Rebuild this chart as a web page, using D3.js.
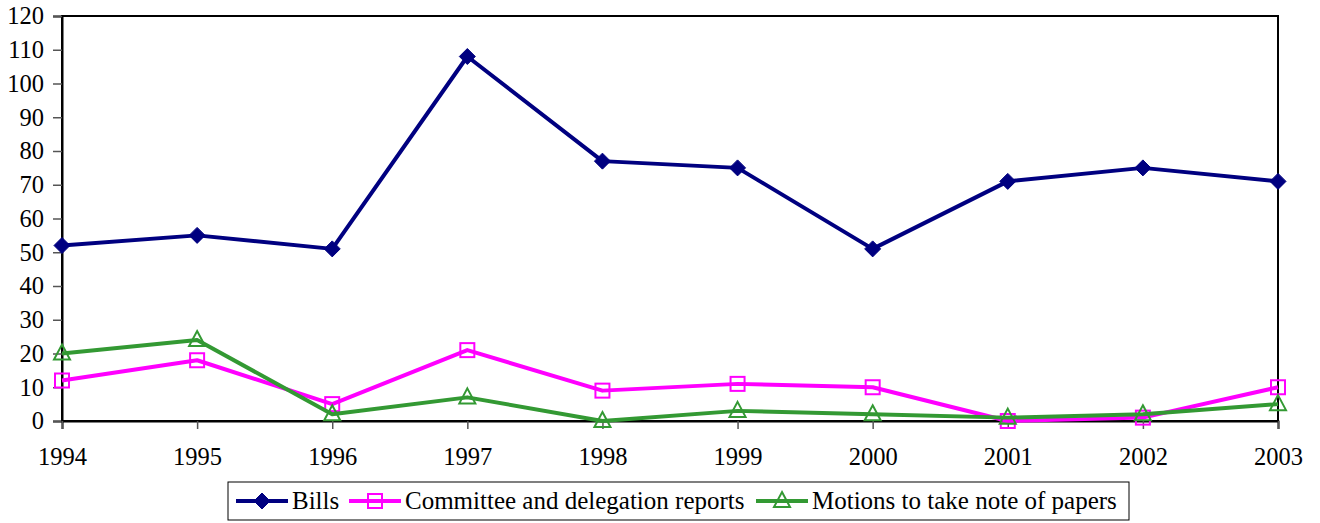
<!DOCTYPE html>
<html>
<head>
<meta charset="utf-8">
<script src="https://cdn.jsdelivr.net/npm/d3@7"></script>
<style>
  body { margin: 0; background: #fff; }
  svg text { font-family: "Liberation Serif", "Times New Roman", serif; fill: #000; }
</style>
</head>
<body>
<svg id="chart" width="1320" height="523"></svg>
<script>
// data
var years = ["1994", "1995", "1996", "1997", "1998", "1999", "2000", "2001", "2002", "2003"];
var bills = [52, 55, 51, 108, 77, 75, 51, 71, 75, 71];
var reports = [12, 18, 5, 21, 9, 11, 10, 0, 1, 10];
var motions = [20, 24, 2, 7, 0, 3, 2, 1, 2, 5];
var yTicks = [0, 10, 20, 30, 40, 50, 60, 70, 80, 90, 100, 110, 120];

var series = [
  { name: "Bills", values: bills, color: "#000080", marker: "diamond" },
  { name: "Committee and delegation reports", values: reports, color: "#FF00FF", marker: "square" },
  { name: "Motions to take note of papers", values: motions, color: "#339933", marker: "triangle" }
];

var plotL = 62, plotR = 1278, plotT = 16, plotB = 421;
var fontSize = "24.5px";
var svg = d3.select("#chart");

var x = d3.scalePoint().domain(years).range([plotL, plotR]);
var y = d3.scaleLinear().domain([0, 120]).range([plotB, plotT]);

// frame
svg.append("rect")
  .attr("x", plotL).attr("y", plotT)
  .attr("width", plotR - plotL).attr("height", plotB - plotT)
  .attr("fill", "none").attr("stroke", "#000").attr("stroke-width", 2);

// y axis
var yAxis = svg.append("g")
  .attr("transform", "translate(" + plotL + ",0)")
  .call(d3.axisLeft(y).tickValues(yTicks).tickSize(9).tickPadding(9));
yAxis.attr("font-family", "Liberation Serif");
yAxis.select(".domain").attr("stroke", "#000").attr("stroke-width", 2);
yAxis.selectAll(".tick line").attr("stroke", "#555").attr("stroke-width", 1.5);
yAxis.selectAll("text").style("font-size", fontSize).attr("fill", "#000");

// x axis
var xAxis = svg.append("g")
  .attr("transform", "translate(0," + plotB + ")")
  .call(d3.axisBottom(x).tickSize(8).tickPadding(19));
xAxis.attr("font-family", "Liberation Serif");
xAxis.select(".domain").attr("stroke", "#000").attr("stroke-width", 2);
xAxis.selectAll(".tick line").attr("stroke", "#555").attr("stroke-width", 1.5);
xAxis.selectAll("text").style("font-size", fontSize).attr("fill", "#000");

var line = d3.line()
  .x(function(d, i) { return x(years[i]); })
  .y(function(d) { return y(d); });

function drawMarker(g, type, color) {
  if (type === "diamond") {
    g.append("path").attr("d", "M0,-8L8,0L0,8L-8,0Z")
      .attr("fill", color).attr("stroke", color).attr("stroke-width", 1);
  } else if (type === "square") {
    g.append("rect").attr("x", -7).attr("y", -7).attr("width", 14).attr("height", 14)
      .attr("fill", "none").attr("stroke", color).attr("stroke-width", 2);
  } else {
    g.append("path").attr("d", "M0,-9L8,6L-8,6Z")
      .attr("fill", "none").attr("stroke", color).attr("stroke-width", 2);
  }
}

series.forEach(function(s) {
  svg.append("path")
    .datum(s.values)
    .attr("d", line)
    .attr("fill", "none")
    .attr("stroke", s.color)
    .attr("stroke-width", 4)
    .attr("stroke-linejoin", "round");

  s.values.forEach(function(v, i) {
    var g = svg.append("g")
      .attr("transform", "translate(" + x(years[i]) + "," + y(v) + ")");
    drawMarker(g, s.marker, s.color);
  });
});

// legend
var legend = svg.append("g").attr("font-family", "Liberation Serif");
legend.append("rect")
  .attr("x", 228).attr("y", 482).attr("width", 901).attr("height", 38)
  .attr("fill", "#fff").attr("stroke", "#000").attr("stroke-width", 1);

var legendX = [236, 349, 756];
series.forEach(function(s, i) {
  var lx = legendX[i], ly = 501;
  legend.append("line")
    .attr("x1", lx).attr("x2", lx + 52).attr("y1", ly).attr("y2", ly)
    .attr("stroke", s.color).attr("stroke-width", 4);
  var g = legend.append("g").attr("transform", "translate(" + (lx + 26) + "," + ly + ")");
  drawMarker(g, s.marker, s.color);
  legend.append("text")
    .attr("x", lx + 56).attr("y", ly + 8)
    .style("font-size", "25px")
    .text(s.name);
});
</script>
</body>
</html>
